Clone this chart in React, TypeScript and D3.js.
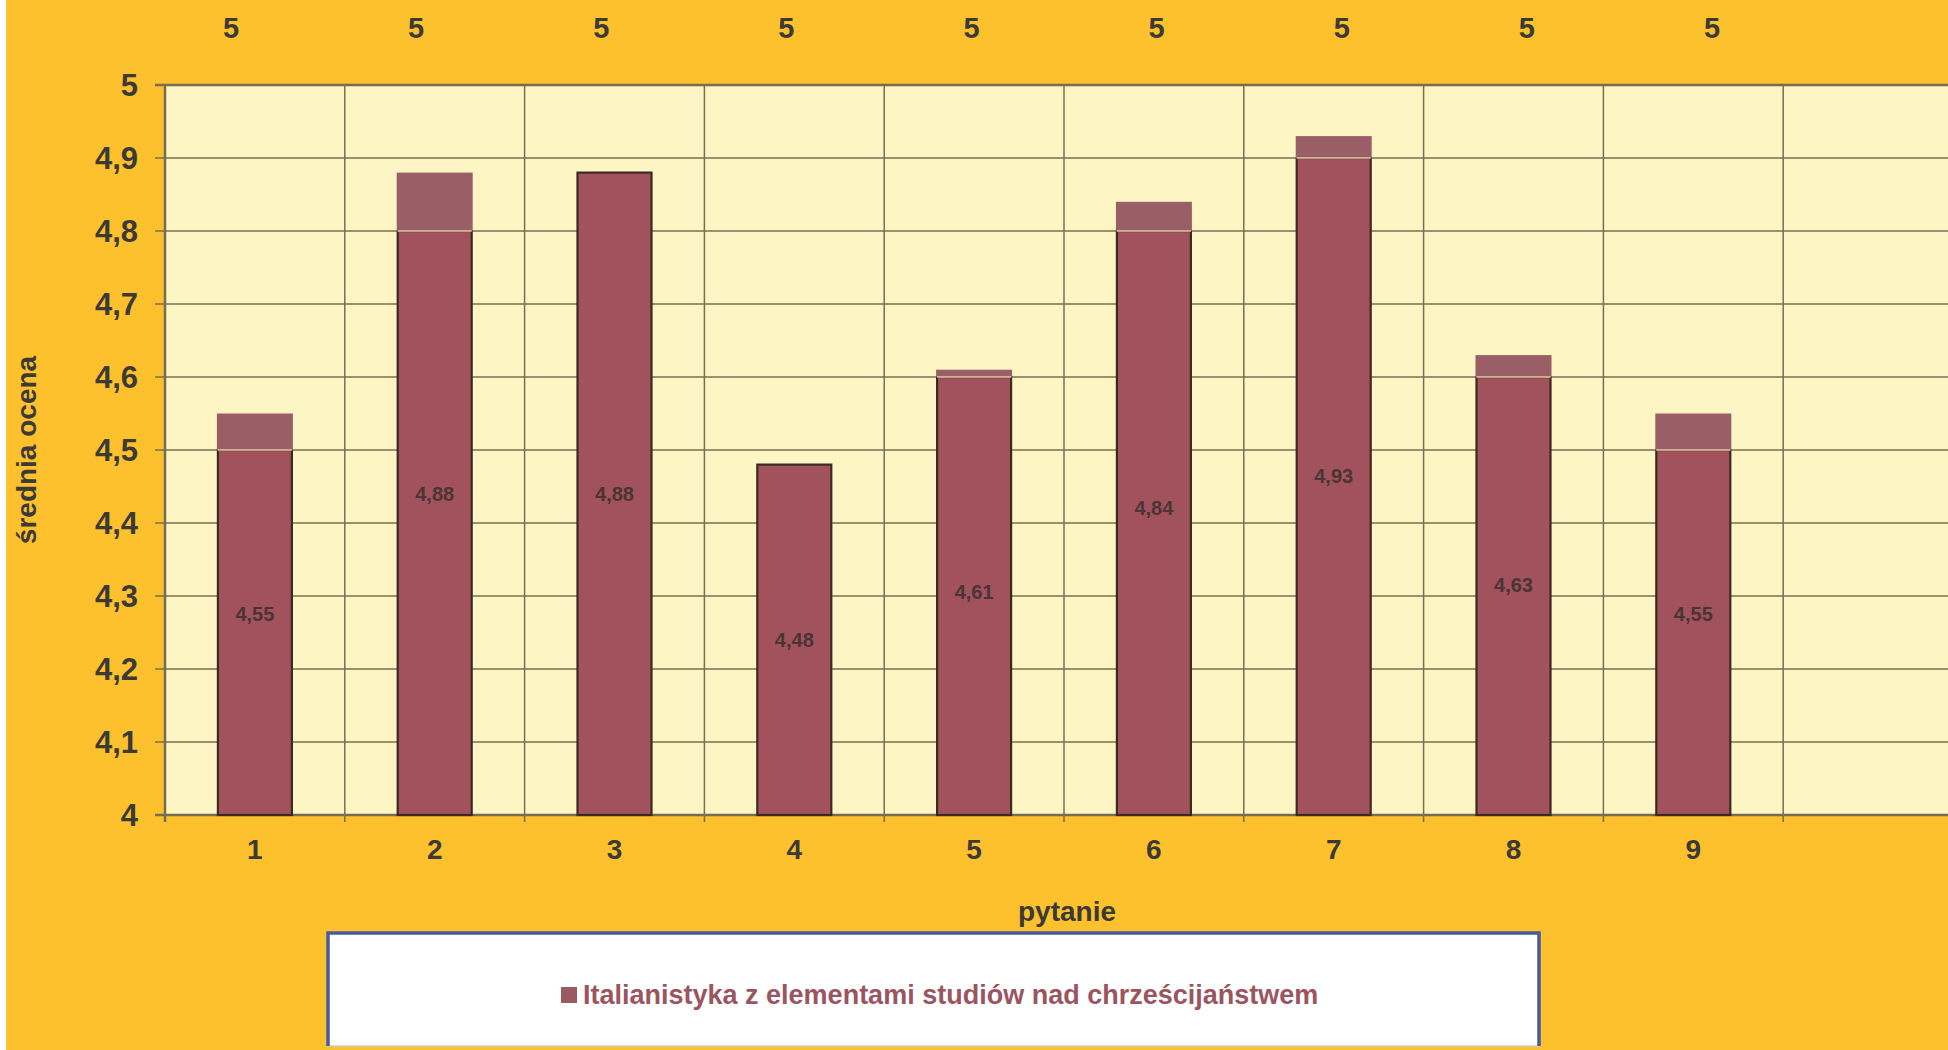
import React from 'react';
import * as d3 from 'd3';

// ---- data ----
const categories: string[] = ['1', '2', '3', '4', '5', '6', '7', '8', '9'];
const values: number[] = [4.55, 4.88, 4.88, 4.48, 4.61, 4.84, 4.93, 4.63, 4.55];
const topLabels: number[] = [5, 5, 5, 5, 5, 5, 5, 5, 5];
const yTicks: number[] = [4, 4.1, 4.2, 4.3, 4.4, 4.5, 4.6, 4.7, 4.8, 4.9, 5];
const scanCap: boolean[] = [true, true, false, false, true, true, true, true, true];
const seriesName = 'Italianistyka z elementami studiów nad chrześcijaństwem';
const xTitle = 'pytanie';
const yTitle = 'średnia ocena';

const W = 1948;
const H = 1050;
const FONT = "'Liberation Sans', Arial, Helvetica, sans-serif";
const ORANGE = '#fdc12e';
const PLOT_BG = '#fdf6c4';
const GRID = '#776e50';
const BAR = '#a2525c';
const CAP = '#9a5e66';
const TEXT = '#3c3a34';

const fmt = (v: number) => {
  const r = Math.round(v * 100) / 100;
  return String(r).replace('.', ',');
};

export default function App() {
  const left = 165;
  const top = 85;
  const bottom = 815;
  const slots = categories.length + 1; // axis holds one empty slot at the right
  const step = 179.8;
  const x = d3.scaleLinear().domain([0, slots]).range([left, left + slots * step]);
  const y = d3.scaleLinear().domain([4, 5]).range([bottom, top]);
  const topX = d3.scalePoint<string>().domain(categories).range([231, 1712]);
  const barW = 74;

  return (
    <svg
      width={W}
      height={H}
      style={{ position: 'absolute', left: 0, top: 0, display: 'block' }}
      fontFamily={FONT}
    >
      <rect x={0} y={0} width={W} height={H} fill="#ffffff" />
      <rect x={6} y={0} width={W - 6} height={H} fill={ORANGE} />

      {/* plot area */}
      <rect x={left} y={top} width={x(slots) - left} height={bottom - top} fill={PLOT_BG} />

      {/* horizontal grid */}
      {yTicks.map((t) => (
        <line
          key={'h' + t}
          x1={left - 10}
          x2={x(slots)}
          y1={y(t)}
          y2={y(t)}
          stroke={GRID}
          strokeWidth={t === 4 || t === 5 ? 2.5 : 1.5}
        />
      ))}
      {/* vertical grid */}
      {d3.range(slots + 1).map((i) => (
        <line
          key={'v' + i}
          x1={x(i)}
          x2={x(i)}
          y1={top}
          y2={bottom + 7}
          stroke={GRID}
          strokeWidth={i === 0 ? 2.5 : 1.5}
        />
      ))}

      {/* bars */}
      {values.map((v, i) => {
        const cx = x(i + 0.5);
        const capStart = scanCap[i] ? Math.floor(v * 10 + 1e-9) / 10 : v;
        return (
          <g key={'b' + i}>
            <rect
              x={cx - barW / 2}
              y={y(capStart)}
              width={barW}
              height={bottom - y(capStart)}
              fill={BAR}
              stroke="#3b2a24"
              strokeWidth={2.2}
            />
            {scanCap[i] && (
              <>
                <rect
                  x={cx - barW / 2 - 1}
                  y={y(v)}
                  width={barW + 2}
                  height={y(capStart) - y(v)}
                  fill={CAP}
                />
                <line
                  x1={cx - barW / 2}
                  x2={cx + barW / 2}
                  y1={y(capStart)}
                  y2={y(capStart)}
                  stroke="#e6c9a6"
                  strokeWidth={1.5}
                />
              </>
            )}
            <text
              x={cx}
              y={y((4 + v) / 2)}
              textAnchor="middle"
              dominantBaseline="central"
              fontSize={20}
              fontWeight="bold"
              fill="#4a3434"
            >
              {fmt(v)}
            </text>
          </g>
        );
      })}

      {/* y tick labels */}
      {yTicks.map((t) => (
        <text
          key={'yl' + t}
          x={138}
          y={y(t)}
          textAnchor="end"
          dominantBaseline="central"
          fontSize={31}
          fontWeight="bold"
          fill={TEXT}
        >
          {fmt(t)}
        </text>
      ))}

      {/* x tick labels */}
      {categories.map((c, i) => (
        <text
          key={'xl' + c}
          x={x(i + 0.5)}
          y={849}
          textAnchor="middle"
          dominantBaseline="central"
          fontSize={28}
          fontWeight="bold"
          fill={TEXT}
        >
          {c}
        </text>
      ))}

      {/* top labels */}
      {topLabels.map((v, i) => (
        <text
          key={'tl' + i}
          x={topX(categories[i])}
          y={28}
          textAnchor="middle"
          dominantBaseline="central"
          fontSize={29}
          fontWeight="bold"
          fill={TEXT}
        >
          {fmt(v)}
        </text>
      ))}

      {/* axis titles */}
      <text
        x={1067}
        y={911}
        textAnchor="middle"
        dominantBaseline="central"
        fontSize={28}
        fontWeight="bold"
        fill={TEXT}
      >
        {xTitle}
      </text>
      <text
        transform={`translate(26,${(top + bottom) / 2}) rotate(-90)`}
        textAnchor="middle"
        dominantBaseline="central"
        fontSize={28}
        fontWeight="bold"
        fill={TEXT}
      >
        {yTitle}
      </text>

      {/* legend */}
      <rect x={328} y={933} width={1211} height={113} fill="#ffffff" stroke="#c9ccd8" strokeWidth={1.5} />
      <path d="M328,1046 L328,933 L1539,933 L1539,1046" fill="none" stroke="#4a599b" strokeWidth={3.5} />
      <rect x={561} y={987} width={16} height={16} fill="#9a5a62" />
      <text x={583} y={995} dominantBaseline="central" fontSize={27} fontWeight="bold" fill="#9a5560">
        {seriesName}
      </text>
    </svg>
  );
}
